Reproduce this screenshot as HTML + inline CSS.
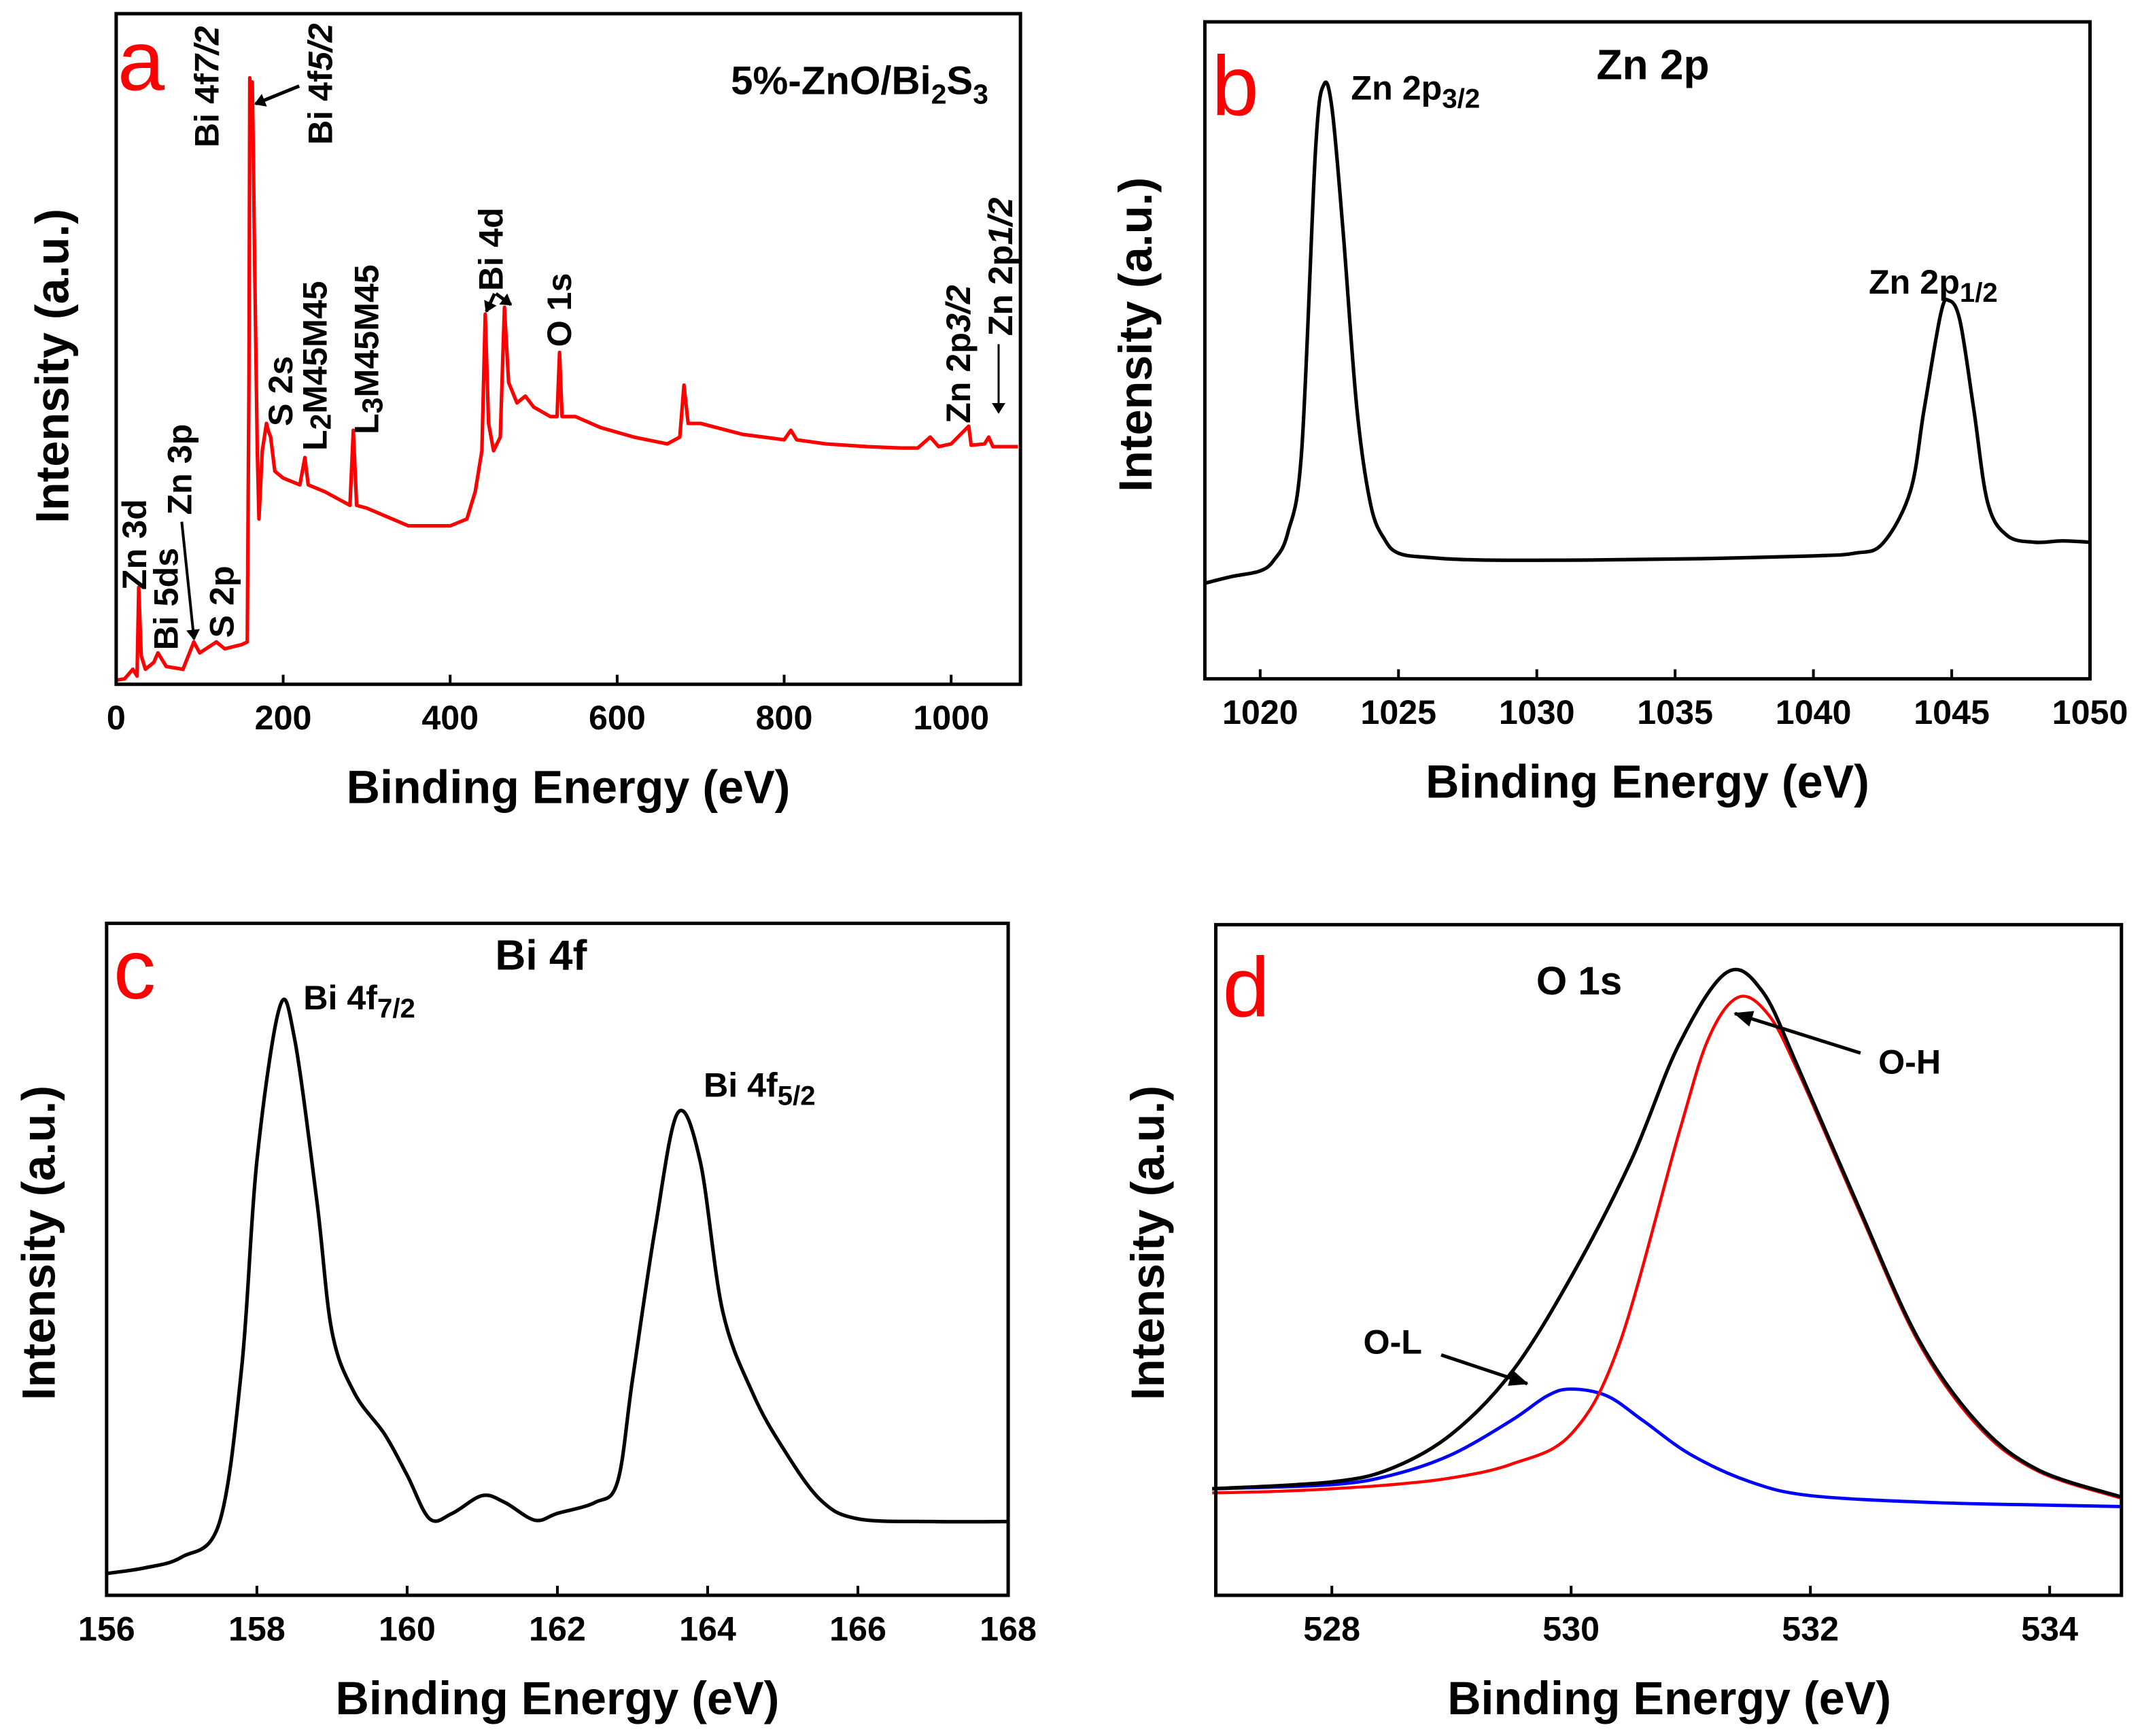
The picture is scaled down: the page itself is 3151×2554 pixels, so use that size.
<!DOCTYPE html>
<html><head><meta charset="utf-8"><style>
html,body{margin:0;padding:0;background:#fff;}
svg{display:block;font-family:"Liberation Sans",Arial,sans-serif;font-weight:bold;}
</style></head><body>
<svg id="fig" width="3151" height="2554" viewBox="0 0 1568 1271" xmlns="http://www.w3.org/2000/svg">
<defs><marker id="ah" markerWidth="8" markerHeight="10" refX="7" refY="5" orient="auto" markerUnits="userSpaceOnUse"><path d="M0,0 L8,5 L0,10 z" fill="#000"/></marker>
<marker id="ahs" markerWidth="14" markerHeight="12" refX="13" refY="6" orient="auto" markerUnits="userSpaceOnUse"><path d="M0,0 L14,6 L0,12 z" fill="#000"/></marker></defs>
<g id="layer"></g>
</svg>
<script>
// ---- Panel a: survey ----
const aEnergy=[0,10,20,25,27,30,35,45,50,60,80,93,100,120,130,150,157,159,160,161,162,163,164,166,169,171,175,180,182,185,190,200,220,226,230,250,280,284,288,300,350,400,420,430,438,442,446,452,460,465,470,480,490,500,520,528,531,534,550,580,620,660,675,680,685,700,750,800,808,815,850,900,940,960,975,985,1000,1021,1024,1040,1045,1050,1080];
const aIntensity=[3,4,11,6,71,21,11,16,23,13,11,31,23,31,26,29,31,221,444,420,421,441,400,301,171,121,171,191,186,181,156,151,146,166,146,141,131,186,131,129,116,116,121,141,171,271,191,171,181,276,221,206,211,203,196,196,243,196,196,188,181,176,181,219,191,191,183,179,186,179,176,174,173,173,181,174,176,189,175,176,181,174,174];
// ---- Panel b: Zn 2p ----
const bEnergy=[1018,1019,1020,1020.5,1021,1021.5,1022,1022.3,1022.6,1023,1023.5,1024,1024.5,1025,1026,1028,1032,1036,1040,1041.5,1042.5,1043.5,1044,1044.6,1044.9,1045.3,1045.8,1046.3,1047,1048,1049,1050];
const bIntensity=[70,75,79,87,107,167,387,435,417,327,197,127,102,92,89,87,87,88,90,92,99,137,197,267,277,262,197,129,105,100,101,100];
// ---- Panel c: Bi 4f ----
const cEnergy=[156,156.5,157,157.5,157.8,158,158.3,158.5,158.8,159,159.3,159.7,160,160.3,160.6,161,161.3,161.7,162,162.5,162.8,163,163.3,163.6,163.9,164.2,164.6,165,165.5,166,167,168];
const cIntensity=[16,20,28,53,168,318,430,408,288,193,148,118,88,56,60,73,68,55,60,68,83,158,268,353,318,208,148,108,70,56,54,54];
// ---- Panel d: O 1s ----
const dEnergyRed=[527,527.5,528,528.5,529,529.5,530,530.4,530.9,531.15,531.4,531.65,531.9,532.4,532.9,533.4,533.9,534.6];
const dRed=[75,76,78,81,86,96,118,183,338,408,438,425,383,283,186,124,91,71];
const dEnergyBlue=[527,528,528.5,529,529.5,529.8,530,530.3,530.6,531,531.5,532,533,534,534.6];
const dBlue=[78,81,88,103,128,146,151,146,128,103,83,73,68,66,65];
const dEnergyBlack=[527,528,528.5,529,529.5,530,530.5,530.9,531.3,531.6,531.9,532.4,532.9,533.4,533.9,534.6];
const dBlack=[78,83,93,118,163,233,318,403,456,442,386,285,188,126,92,72];

const NS='http://www.w3.org/2000/svg';
const layer=document.getElementById('layer');
function mk(tag,attrs,parent){const e=document.createElementNS(NS,tag);for(const k in attrs)e.setAttribute(k,attrs[k]);(parent||layer).appendChild(e);return e;}
function lin(d0,d1,r0,r1){return v=>r0+(v-d0)*(r1-r0)/(d1-d0);}
function smoothPath(pts){let d='M'+pts[0][0]+','+pts[0][1];for(let i=0;i<pts.length-1;i++){const p0=pts[Math.max(0,i-1)],p1=pts[i],p2=pts[i+1],p3=pts[Math.min(pts.length-1,i+2)];const c1=[p1[0]+(p2[0]-p0[0])/6,p1[1]+(p2[1]-p0[1])/6],c2=[p2[0]-(p3[0]-p1[0])/6,p2[1]-(p3[1]-p1[1])/6];d+=' C'+c1+' '+c2+' '+p2;}return d;}
function linePath(pts){return 'M'+pts.map(p=>p.join(',')).join(' L');}

function panel(cfg){
  const g=mk('g',{});
  
  
  const x=lin(cfg.xd[0],cfg.xd[1],cfg.L,cfg.R), y=v=>cfg.B-v;
  cfg.ticks.forEach(t=>{
    const tk=mk('line',{x1:x(t),x2:x(t),y1:cfg.B,y2:cfg.B-7,stroke:'#000','stroke-width':2},g);
    
    
    const tl=mk('text',{x:x(t),y:cfg.B+33,'text-anchor':'middle','font-size':25},g);tl.textContent=t;
    
    
  });
  cfg.series.forEach(s=>{
    const pts=s.e.map((e,i)=>[x(e),y(s.v[i])]);
    const p=mk('path',{d:s.smooth?smoothPath(pts):linePath(pts),fill:'none',stroke:s.color,'stroke-width':s.w,'stroke-linejoin':'round'},g);
    
    
  });
  const fr=mk('rect',{x:cfg.L,y:cfg.T,width:cfg.R-cfg.L,height:cfg.B-cfg.T,fill:'none',stroke:'#000','stroke-width':2.5},g);
  
  
  const xt=mk('text',{x:cfg.xtx,y:cfg.B+87,'text-anchor':'middle','font-size':34},g);xt.textContent='Binding Energy (eV)';
  
  
  const yt=mk('text',{x:0,y:0,'text-anchor':'middle','font-size':34,transform:'translate('+cfg.ytx+','+cfg.yty+') rotate(-90)'},g);yt.textContent='Intensity (a.u.)';
  
  
  const pl=mk('text',{x:cfg.lx,y:cfg.ly,'font-size':62,fill:'#f00','font-weight':'normal'},g);pl.textContent=cfg.letter;
  
  
  return {g,x,y};
}
function label(g,html,x,y,size,anchor,name,rot){
  const t=mk('text',{x:rot?0:x,y:rot?0:y,'font-size':size,'text-anchor':anchor||'start'},g);
  if(rot)t.setAttribute('transform','translate('+x+','+y+') rotate(-90)');
  t.innerHTML=html;
  
  
  return t;
}
function arrow(g,x1,y1,x2,y2,w,m,name){
  const a=mk('line',{x1,y1,x2,y2,stroke:'#000','stroke-width':w,'marker-end':'url(#'+m+')'},g);
  
  
}
const sub=(t)=>'<tspan font-size="0.8em" dy="6">'+t+'</tspan>';

// Panel a
const A=panel({name:'panel-a-survey',L:85,R:747,T:10,B:501,xd:[0,1083],ticks:[0,200,400,600,800,1000],xtx:416,ytx:50,yty:268,lx:86,ly:66,letter:'a',
  series:[{e:aEnergy,v:aIntensity,color:'#f00',w:2.6,smooth:false,name:'survey-spectrum'}]});
label(A.g,'5%-ZnO/Bi'+'<tspan font-size="0.7em" dy="7">2</tspan><tspan dy="-7">S</tspan><tspan font-size="0.7em" dy="7">3</tspan>',535,69,29,'start','sample-name');
label(A.g,'Bi 4f<tspan font-style="italic">7/2</tspan>',160,108,25,'start','label-bi4f72',true);
label(A.g,'Bi 4f<tspan font-style="italic">5/2</tspan>',243,106,25,'start','label-bi4f52',true);
arrow(A.g,219,63,187,76,2.5,'ah','arrow-bi4f');
label(A.g,'Zn 3d',107,432,25,'start','label-zn3d',true);
label(A.g,'Bi 5ds',130,476,25,'start','label-bi5d',true);
label(A.g,'Zn 3p',140,377,25,'start','label-zn3p',true);
arrow(A.g,133,382,142,468,2,'ah','arrow-zn3p');
label(A.g,'S 2p',171,467,25,'start','label-s2p',true);
label(A.g,'S 2s',214,312,25,'start','label-s2s',true);
label(A.g,'L<tspan font-size="0.85em" dy="3">2</tspan><tspan dy="-3">M45M45</tspan>',239,330,25,'start','label-l2m45m45',true);
label(A.g,'L<tspan font-size="0.85em" dy="3">3</tspan><tspan dy="-3">M45M45</tspan>',277,318,25,'start','label-l3m45m45',true);
label(A.g,'Bi 4d',368,213,25,'start','label-bi4d',true);
arrow(A.g,362,215,356,228,2.5,'ah','arrow-bi4d-1');
arrow(A.g,363,215,374,223,2.5,'ah','arrow-bi4d-2');
label(A.g,'O 1s',418,254,25,'start','label-o1s',true);
label(A.g,'Zn 2p<tspan font-style="italic">3/2</tspan>',710,310,25,'start','label-zn2p32',true);
label(A.g,'Zn 2p<tspan font-style="italic">1/2</tspan>',741,246,25,'start','label-zn2p12',true);
arrow(A.g,731,252,731,302,1.5,'ah','arrow-zn2p12');

// Panel b
const Bp=panel({name:'panel-b-zn2p',L:882,R:1530,T:16,B:497,xd:[1018,1050],ticks:[1020,1025,1030,1035,1040,1045,1050],xtx:1206,ytx:843,yty:245,lx:887,ly:84,letter:'b',
  series:[{e:bEnergy,v:bIntensity,color:'#000',w:2.6,smooth:true,name:'zn2p-spectrum'}]});
label(Bp.g,'Zn 2p',1210,58,31,'middle','panel-b-title');
label(Bp.g,'Zn 2p'+sub('3/2'),989,73,25,'start','label-zn2p32');
label(Bp.g,'Zn 2p'+sub('1/2'),1368,215,25,'start','label-zn2p12');

// Panel c
const C=panel({name:'panel-c-bi4f',L:78,R:738,T:676,B:1168,xd:[156,168],ticks:[156,158,160,162,164,166,168],xtx:408,ytx:40,yty:910,lx:83,ly:731,letter:'c',
  series:[{e:cEnergy,v:cIntensity,color:'#000',w:2.6,smooth:true,name:'bi4f-spectrum'}]});
label(C.g,'Bi 4f',396,710,31,'middle','panel-c-title');
label(C.g,'Bi 4f'+sub('7/2'),222,739,25,'start','label-bi4f72');
label(C.g,'Bi 4f'+sub('5/2'),515,803,25,'start','label-bi4f52');

// Panel d
const D=panel({name:'panel-d-o1s',L:890,R:1553,T:677,B:1168,xd:[527.03,534.6],ticks:[528,530,532,534],xtx:1222,ytx:852,yty:910,lx:895,ly:744,letter:'d',
  series:[{e:dEnergyBlue,v:dBlue,color:'#00f',w:2.4,smooth:true,name:'o-l-fit'},
          {e:dEnergyRed,v:dRed,color:'#f00',w:2.2,smooth:true,name:'o-h-fit'},
          {e:dEnergyBlack,v:dBlack,color:'#000',w:2.6,smooth:true,name:'o1s-envelope'}]});
label(D.g,'O 1s',1156,728,29,'middle','panel-d-title');
label(D.g,'O-H',1375,786,25,'start','label-oh');
arrow(D.g,1362,771,1270,742,2.5,'ahs','arrow-oh');
label(D.g,'O-L',998,991,25,'start','label-ol');
arrow(D.g,1055,992,1118,1013,2.5,'ahs','arrow-ol');
</script>
</body></html>
